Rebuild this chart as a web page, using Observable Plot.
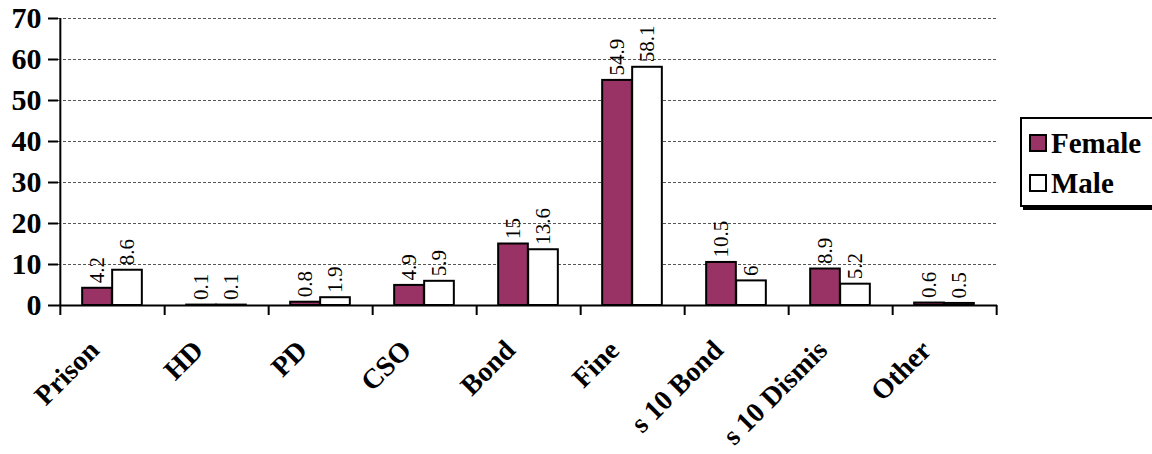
<!DOCTYPE html>
<html><head><meta charset="utf-8">
<script src="https://cdn.jsdelivr.net/npm/d3@7"></script>
<script src="https://cdn.jsdelivr.net/npm/@observablehq/plot@0.6"></script>
<style>
body{margin:0;background:#fff;overflow:hidden;}
#wrap{position:relative;width:1152px;height:454px;font-family:"Liberation Serif",Tinos,"Times New Roman","DejaVu Serif",serif;overflow:hidden;}
#legend{position:absolute;left:1020px;top:117px;width:150px;height:90px;border:2px solid #000;box-shadow:3px 3px 0 #000;background:#fff;box-sizing:border-box;padding-top:4px;}
.item{display:flex;align-items:center;font-weight:bold;font-size:29px;height:40px;padding-left:7px;color:#000}
.sw{width:14px;height:14px;border:2px solid #000;margin-right:4px;flex:none}
</style></head><body><div id="wrap"><div id="legend"></div></div>
<script>
const categories = ["Prison","HD","PD","CSO","Bond","Fine","s 10 Bond","s 10 Dismis","Other"];
const female = [4.2,0.1,0.8,4.9,15,54.9,10.5,8.9,0.6];
const male = [8.6,0.1,1.9,5.9,13.6,58.1,6,5.2,0.5];
const seriesNames = ["Female","Male"];
const seriesColors = ["#993366","#ffffff"];
const yTicks = [0,10,20,30,40,50,60,70];

const rows = [];
categories.forEach((c,i)=>{
  rows.push({category:c, series:"Female", value:female[i]});
  rows.push({category:c, series:"Male", value:male[i]});
});
const FONT = '"Liberation Serif",Tinos,"Times New Roman","DejaVu Serif",serif';
const W = 1152, H = 454, mL = 58, mR = 155, mT = 18, mB = 149;
const band = (W - mL - mR) / categories.length;
const half = band / 2;
const barW = 30;

const chart = Plot.plot({
  width: W, height: H,
  marginLeft: mL, marginRight: mR, marginTop: mT, marginBottom: mB,
  style: {fontFamily: FONT, background: "#fff", color: "#000", overflow: "visible"},
  x: {domain: categories, padding: 0, axis: null},
  y: {domain: [0,70], axis: null},
  color: {domain: seriesNames, range: seriesColors},
  marks: [
    Plot.ruleY(yTicks.filter(d=>d>0), {stroke:"#555", strokeDasharray:"3,2", strokeWidth:1}),
    Plot.barY(rows.filter(d=>d.series==="Female"), {x:"category", y:"value", fill:"series", stroke:"#000", strokeWidth:2, insetLeft: half - barW, insetRight: half}),
    Plot.barY(rows.filter(d=>d.series==="Male"), {x:"category", y:"value", fill:"series", stroke:"#000", strokeWidth:2, insetLeft: half, insetRight: half - barW}),
    Plot.ruleY([0], {stroke:"#000", strokeWidth:2}),
    Plot.ruleX(categories, {x: d=>d, dx: half, y1: ()=>0, y2: ()=>0, insetTop: 10, stroke:"#000", strokeWidth:2}),
    Plot.ruleX(categories.slice(0,1), {x: d=>d, dx: -half, y1: ()=>70, y2: ()=>0, insetBottom: -10, stroke:"#000", strokeWidth:2}),
    Plot.ruleY(yTicks, {y: d=>d, insetLeft: -10, insetRight: W - mL - mR, stroke:"#000", strokeWidth:2}),
    Plot.text(yTicks, {y: d=>d, text: d=>String(d), frameAnchor:"left", textAnchor:"end", dx: -17, fontSize: 30, fontWeight:"bold", fill:"#000"}),
    Plot.text(rows.filter(d=>d.series==="Female"), {x:"category", y:"value", text: d=>String(d.value), dx: -barW/2, rotate:-90, textAnchor:"start", dy:-5, fontSize:21, fill:"#000", ariaLabel:"vlabel"}),
    Plot.text(rows.filter(d=>d.series==="Male"), {x:"category", y:"value", text: d=>String(d.value), dx: barW/2, rotate:-90, textAnchor:"start", dy:-5, fontSize:21, fill:"#000", ariaLabel:"vlabel"}),
    Plot.text(categories, {x: d=>d, y: ()=>0, text: d=>d, rotate:-45, textAnchor:"end", dx:-18, dy:40, fontSize:28, fontWeight:"bold", fill:"#000"})
  ]
});
chart.querySelectorAll('g[aria-label="vlabel"] text').forEach(t=>{
  t.setAttribute("transform", (t.getAttribute("transform")||"") + " scale(1,1.4)");
});
document.getElementById("wrap").prepend(chart);

const leg = document.getElementById("legend");
seriesNames.forEach((s,i)=>{
  const it = document.createElement("div"); it.className="item";
  const sw = document.createElement("div"); sw.className="sw"; sw.style.background = seriesColors[i];
  const tx = document.createElement("span"); tx.textContent = s;
  it.appendChild(sw); it.appendChild(tx); leg.appendChild(it);
});
</script>
</body></html>
